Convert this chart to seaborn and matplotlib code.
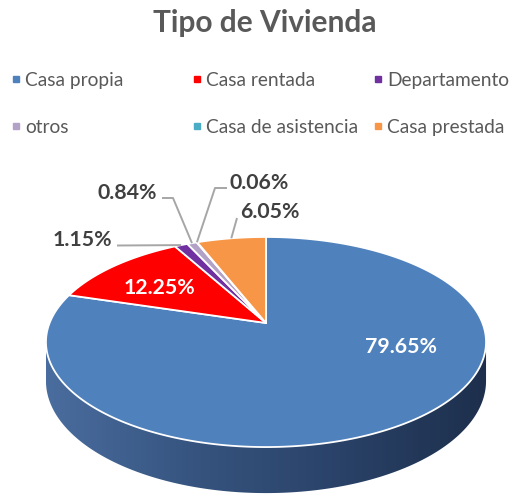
import numpy as np
import matplotlib
matplotlib.use("Agg")
import matplotlib.pyplot as plt
import seaborn as sns
from matplotlib.patches import Polygon
from matplotlib.lines import Line2D
from matplotlib.colors import LinearSegmentedColormap

# ---- data ----
categories = ["Casa propia", "Casa rentada", "Departamento",
              "otros", "Casa de asistencia", "Casa prestada"]
shares = [79.65, 12.25, 1.15, 0.84, 0.06, 6.05]
value_labels = ["79.65%", "12.25%", "1.15%", "0.84%", "0.06%", "6.05%"]
colors = ["#4f81bd", "#ff0000", "#7030a0", "#b3a2c7", "#4bacc6", "#f79646"]

sns.set_theme(style="white")
plt.rcParams["font.family"] = ["Lato", "DejaVu Sans"]
palette = sns.color_palette(colors)

# ---- geometry of the tilted pie (pixel space) ----
CX, CY = 266.0, 323.0      # centre of top face
RX = 216.4                 # horizontal radius
K = 0.181                  # perspective strength
A = 101.6                  # vertical radius scale
DEPTH = 37.7               # thickness of the disc


def proj(theta_deg, r=1.0, depth=0.0):
    t = np.radians(theta_deg)
    c, s = r * np.cos(t), r * np.sin(t)
    w = 1.0 + K * s
    return CX + RX * c / w, CY + (-A * s + depth) / w


fig = plt.figure(figsize=(5.16, 4.97), dpi=100)
ax = fig.add_axes([0, 0, 1, 1])
ax.set_xlim(0, 516)
ax.set_ylim(497, 0)
ax.axis("off")

# ---- side wall with horizontal shading ----
tl = 180 + np.degrees(np.arcsin(K))
tr = 360 - np.degrees(np.arcsin(K))
arc = np.linspace(tl, tr, 200)
top_x, top_y = proj(arc)
bot_x, bot_y = proj(arc[::-1], depth=DEPTH)
side = Polygon(np.column_stack([np.r_[top_x, bot_x], np.r_[top_y, bot_y]]),
               closed=True, facecolor="none", edgecolor="none")
ax.add_patch(side)
shade = LinearSegmentedColormap.from_list(
    "side", ["#4a6d9f", "#36547f", "#2a4268", "#1d2f4c"])
grad = np.linspace(0, 1, 256)[None, :]
im = ax.imshow(grad, cmap=shade, aspect="auto", zorder=1,
               extent=(top_x.min(), top_x.max(), bot_y.max() + 2, top_y.min() - 2))
im.set_clip_path(side)

# ---- top face wedges (clockwise from 12 o'clock) ----
total = float(sum(shares))
cum = np.r_[0, np.cumsum(shares)] / total * 360.0
mids = []
for i, col in enumerate(palette):
    a0, a1 = 90 - cum[i], 90 - cum[i + 1]
    th = np.linspace(a0, a1, max(int(abs(a0 - a1)) * 2, 4))
    px, py = proj(th)
    verts = np.column_stack([np.r_[CX, px], np.r_[CY, py]])
    ax.add_patch(Polygon(verts, closed=True, facecolor=col,
                         edgecolor="white", linewidth=1.3, zorder=2,
                         joinstyle="round"))
    mids.append((a0 + a1) / 2)

# ---- value labels ----
label_pos = {0: (401, 347, "center"), 1: (159, 288, "center"),
             2: (112, 240, "right"), 3: (157, 193, "right"),
             4: (230, 183, "left"), 5: (240, 212, "left")}
leaders = {2: [(117, 245.5)], 3: [(173, 198), (162, 198)],
           4: [(215, 188), (227, 188)], 5: [(237, 218)]}

for i, txt in enumerate(value_labels):
    x, y, ha = label_pos[i]
    inside = i not in leaders
    ax.text(x, y, txt, ha=ha, va="center", fontsize=15.3, fontweight="bold",
            color="white" if inside else "#404040", zorder=4)
    if not inside:
        sx, sy = proj(mids[i])
        pts = [(sx, sy)] + leaders[i]
        ax.plot([p[0] for p in pts], [p[1] for p in pts], color="#a6a6a6",
                linewidth=1.4, zorder=3, solid_capstyle="butt")

# ---- title ----
ax.text(265, 23, "Tipo de Vivienda", ha="center", va="center",
        fontsize=21.5, fontweight="bold", color="#595959")

# ---- legend: three columns of two entries ----
col_x = [10, 191, 372]
for j in range(3):
    idx = [j, j + 3]
    handles = [Line2D([], [], marker="s", linestyle="", markersize=5,
                      color=palette[k]) for k in idx]
    fig.legend(handles, [categories[k] for k in idx], loc="upper left",
               bbox_to_anchor=(col_x[j], 72), bbox_transform=ax.transData,
               frameon=False, fontsize=13.8, labelcolor="#595959",
               handlelength=0.6, handletextpad=0.2, borderpad=0,
               borderaxespad=0, labelspacing=1.55)

fig.savefig("out.png", dpi=100)
